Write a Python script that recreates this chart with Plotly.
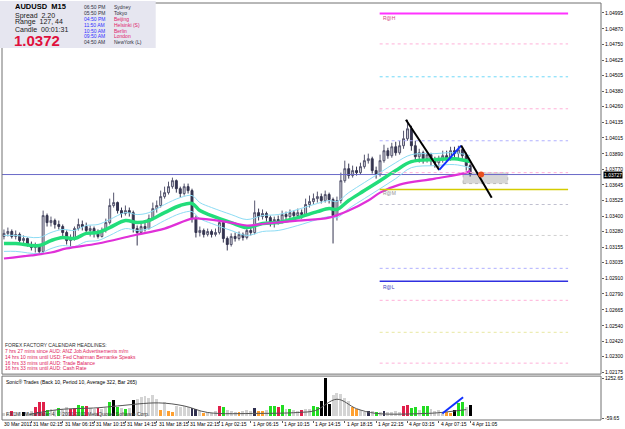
import plotly.graph_objects as go

# ---------------- data ----------------
candle_idx = list(range(120))
candle_open = [1.03241,1.03265,1.03280,1.03241,1.03257,1.03209,1.03225,1.03178,1.03154,1.03170,
 1.03123,1.03405,1.03350,1.03366,1.03335,1.03319,1.03272,1.03209,1.03225,1.03303,
 1.03335,1.03319,1.03288,1.03303,1.03265,1.03241,1.03288,1.03350,1.03484,1.03507,
 1.03444,1.03421,1.03444,1.03428,1.03303,1.03272,1.03319,1.03303,1.03381,1.03460,
 1.03484,1.03554,1.03585,1.03632,1.03679,1.03616,1.03578,1.03632,1.03601,1.03381,
 1.03272,1.03288,1.03257,1.03280,1.03257,1.03272,1.03350,1.03225,1.03178,1.03241,
 1.03225,1.03257,1.03233,1.03288,1.03272,1.03428,1.03397,1.03421,1.03389,1.03350,
 1.03374,1.03358,1.03413,1.03397,1.03428,1.03405,1.03428,1.03413,1.03492,1.03515,
 1.03538,1.03554,1.03523,1.03570,1.03531,1.03405,1.03523,1.03679,1.03773,1.03719,
 1.03758,1.03742,1.03789,1.03836,1.03851,1.03758,1.03727,1.03836,1.03914,1.03875,
 1.03945,1.03898,1.03953,1.04008,1.04086,1.03953,1.03867,1.03898,1.03851,1.03883,
 1.03836,1.03820,1.03851,1.03875,1.03851,1.03914,1.03891,1.03922,1.03875,1.03797]
candle_high = [1.03296,1.03311,1.03296,1.03288,1.03272,1.03249,1.03233,1.03201,1.03193,1.03178,
 1.03444,1.03421,1.03397,1.03381,1.03366,1.03335,1.03288,1.03257,1.03319,1.03381,
 1.03366,1.03350,1.03327,1.03319,1.03296,1.03311,1.03381,1.03538,1.03585,1.03515,
 1.03468,1.03484,1.03468,1.03444,1.03327,1.03350,1.03350,1.03413,1.03507,1.03523,
 1.03601,1.03632,1.03671,1.03703,1.03688,1.03632,1.03656,1.03656,1.03616,1.03405,
 1.03319,1.03303,1.03303,1.03296,1.03303,1.03374,1.03366,1.03241,1.03265,1.03272,
 1.03280,1.03272,1.03311,1.03319,1.03523,1.03460,1.03453,1.03436,1.03405,1.03397,
 1.03405,1.03444,1.03436,1.03453,1.03444,1.03460,1.03453,1.03538,1.03562,1.03578,
 1.03593,1.03578,1.03601,1.03585,1.03546,1.03554,1.03742,1.03836,1.03813,1.03797,
 1.03789,1.03820,1.03883,1.03891,1.03867,1.03789,1.03883,1.03961,1.03937,1.03976,
 1.03984,1.03992,1.04071,1.04157,1.04110,1.03992,1.03929,1.03914,1.03906,1.03898,
 1.03867,1.03875,1.03914,1.03914,1.03945,1.03945,1.03953,1.03937,1.03898,1.03813]
candle_low = [1.03218,1.03241,1.03225,1.03218,1.03193,1.03186,1.03162,1.03131,1.03115,1.03100,
 1.03108,1.03319,1.03319,1.03303,1.03296,1.03241,1.03178,1.03154,1.03209,1.03288,
 1.03288,1.03265,1.03241,1.03233,1.03225,1.03233,1.03272,1.03335,1.03468,1.03421,
 1.03389,1.03405,1.03397,1.03272,1.03170,1.03265,1.03280,1.03296,1.03366,1.03428,
 1.03468,1.03538,1.03570,1.03616,1.03585,1.03546,1.03562,1.03578,1.03350,1.03233,
 1.03241,1.03233,1.03241,1.03233,1.03241,1.03257,1.03193,1.03131,1.03162,1.03201,
 1.03209,1.03209,1.03218,1.03249,1.03257,1.03366,1.03374,1.03358,1.03319,1.03311,
 1.03335,1.03343,1.03374,1.03381,1.03381,1.03389,1.03381,1.03397,1.03468,1.03492,
 1.03507,1.03500,1.03507,1.03500,1.03186,1.03366,1.03500,1.03663,1.03695,1.03703,
 1.03719,1.03727,1.03773,1.03813,1.03735,1.03695,1.03711,1.03820,1.03851,1.03859,
 1.03875,1.03883,1.03929,1.03992,1.03914,1.03836,1.03820,1.03813,1.03820,1.03797,
 1.03781,1.03781,1.03820,1.03828,1.03836,1.03859,1.03851,1.03836,1.03758,1.03711]
candle_close = [1.03265,1.03280,1.03241,1.03257,1.03209,1.03225,1.03178,1.03154,1.03170,1.03123,
 1.03405,1.03350,1.03366,1.03335,1.03319,1.03272,1.03209,1.03225,1.03303,1.03335,
 1.03319,1.03288,1.03303,1.03265,1.03241,1.03288,1.03350,1.03484,1.03507,1.03444,
 1.03421,1.03444,1.03428,1.03303,1.03272,1.03319,1.03303,1.03381,1.03460,1.03484,
 1.03554,1.03585,1.03632,1.03679,1.03616,1.03578,1.03632,1.03601,1.03381,1.03272,
 1.03288,1.03257,1.03280,1.03257,1.03272,1.03350,1.03225,1.03178,1.03241,1.03225,
 1.03257,1.03233,1.03288,1.03272,1.03428,1.03397,1.03421,1.03389,1.03350,1.03374,
 1.03358,1.03413,1.03397,1.03428,1.03405,1.03428,1.03413,1.03492,1.03515,1.03538,
 1.03554,1.03523,1.03570,1.03531,1.03405,1.03523,1.03679,1.03773,1.03719,1.03758,
 1.03742,1.03789,1.03836,1.03851,1.03758,1.03727,1.03836,1.03914,1.03875,1.03945,
 1.03898,1.03953,1.04008,1.04086,1.03953,1.03867,1.03898,1.03851,1.03883,1.03836,
 1.03820,1.03851,1.03875,1.03851,1.03914,1.03891,1.03922,1.03875,1.03797,1.03727]

ma_x = [0,3,9,12,15,18,21,24,27,31,34,37,41,45,48,50,53,58,62,66,70,75,80,83,85,88,92,96,100,104,110,115,119]
ma_fast = [1.03186,1.03186,1.03170,1.03209,1.03233,1.03225,1.03265,1.03272,1.03311,1.03366,1.03350,1.03366,
 1.03428,1.03484,1.03500,1.03444,1.03405,1.03350,1.03311,1.03343,1.03350,1.03389,1.03436,1.03460,1.03453,
 1.03523,1.03601,1.03679,1.03758,1.03828,1.03844,1.03851,1.03828]
band_upper = [1.03249,1.03249,1.03233,1.03272,1.03296,1.03288,1.03327,1.03335,1.03374,1.03428,1.03413,1.03428,
 1.03492,1.03546,1.03562,1.03507,1.03468,1.03413,1.03374,1.03405,1.03413,1.03453,1.03500,1.03523,1.03515,
 1.03585,1.03664,1.03742,1.03820,1.03883,1.03891,1.03898,1.03875]
band_lower = [1.03124,1.03124,1.03108,1.03146,1.03170,1.03162,1.03201,1.03209,1.03249,1.03303,1.03288,1.03303,
 1.03366,1.03421,1.03436,1.03381,1.03343,1.03288,1.03249,1.03280,1.03288,1.03327,1.03374,1.03397,1.03389,
 1.03460,1.03538,1.03616,1.03695,1.03781,1.03797,1.03805,1.03781]
slow_x = [0,7,12,16,24,33,41,48,50,58,62,67,75,83,88,93,96,101,110,118,119]
ma_slow = [1.03068,1.03092,1.03115,1.03147,1.03186,1.03249,1.03303,1.03381,1.03381,1.03350,1.03327,1.03343,
 1.03366,1.03389,1.03444,1.03523,1.03585,1.03648,1.03695,1.03742,1.03758]

bid_price = 1.03727
pivot_levels = [1.04991,1.04752,1.04494,1.04243,1.03992,1.03742,1.03609,1.03492,1.03249,1.02991,1.02889,1.02740,1.02489,1.02247]
pivot_from, pivot_to = 95.9, 144.0
trend_x = [102.6, 111.1, 116.7, 124.5]
trend_y = [1.04157, 1.03763, 1.03954, 1.03544]
box_x = [117.2, 128.6]
box_y = [1.03656, 1.03742]
signal_x, signal_y = 121.8, 1.03727

y_tick_labels = ["1.04995","1.04870","1.04750","1.04625","1.04505","1.04380","1.04260","1.04135","1.04015",
 "1.03890","1.03770","1.03645","1.03525","1.03400","1.03280","1.03155","1.03035","1.02910","1.02790",
 "1.02665","1.02540","1.02420","1.02300","1.02175"]
x_tick_pos = [-0.5,7,15,23,31,39,47,55,63,71,79,87,95,103,111,119]
x_tick_labels = ["30 Mar 2011","31 Mar 02:15","31 Mar 06:15","31 Mar 10:15","31 Mar 14:15","31 Mar 18:15",
 "31 Mar 22:15","1 Apr 02:15","1 Apr 06:15","1 Apr 10:15","1 Apr 14:15","1 Apr 18:15","1 Apr 22:15",
 "4 Apr 03:15","4 Apr 07:15","4 Apr 11:05"]

volume = [90,120,160,100,130,150,140,170,300,450,480,190,250,200,280,230,300,250,260,380,
 350,330,260,240,260,220,280,470,530,300,270,250,280,530,580,620,650,600,680,560,
 200,450,170,140,330,290,350,300,260,240,160,120,140,110,160,320,300,200,160,150,
 130,170,200,180,280,180,160,200,340,350,300,360,250,220,200,180,190,220,240,320,
 300,500,1250,400,700,760,720,600,500,300,250,200,150,180,160,140,150,180,150,130,
 160,140,350,380,280,300,200,320,350,220,180,200,150,130,120,200,420,450,300,380]
volume_kind = list("ggrggkggrr" "rGggGggrrG" "GrggrggGkG" "gGgkllllll" "oloollllnn"
                   "gogggrGggg" "ogggnoogGG" "rGgGggrggG" "Gkkklllllo" "oggngGgngg"
                   "ggrrGGgGGg" "gggookGGgk")
avg_x = [6.6,14,24,29,39.5,46,52,65,75,79.5,85,90,95,108,111.6,118]
avg_v = [62,220,280,340,440,340,125,95,125,190,560,250,95,95,125,220]
sub_line_x = [111.9, 117.2]
sub_line_v = [94, 625]

# ---------------- styles ----------------
kind_color = {"g": "#cfcfcf", "l": "#d4d4d4", "G": "#22dd22", "r": "#e0204a", "k": "#000000",
              "o": "#ffa030", "n": "#303050"}
pivot_color = ["#ff33ff","#ffb0d8","#70d8f8","#ffb0d8","#b0b0ff","#ffb0d8","#d4cc00","#c0c0d0",
               "#d0d0d0","#b0b0ff","#3030e0","#ffb0d8","#e8e8a0","#ffb0d8"]
pivot_dash = ["solid","dot","dot","dot","dot","dot","solid","dot","dot","dot","solid","dot","dot","dot"]
pivot_width = [2,1,1,1,1,1,1.5,1,1,1,1.5,1,1,1]

W, H = 625, 429
L, R, T, B = 2, 19, 2, 9
def px(xp):
    return (xp - L) / (W - L - R)
def py(yp):
    return (H - B - yp) / (H - T - B)

FONT = "Liberation Sans, Arial, sans-serif"
fig = go.Figure()

fig.add_trace(go.Candlestick(
    x=candle_idx, open=candle_open, high=candle_high, low=candle_low, close=candle_close,
    increasing=dict(line=dict(color="#55556e", width=1), fillcolor="#d4d4dc"),
    decreasing=dict(line=dict(color="#34344f", width=1), fillcolor="#34344f"),
    whiskerwidth=0, showlegend=False, hoverinfo="skip", xaxis="x", yaxis="y"))

fig.add_trace(go.Scatter(x=[-0.5, 152.4], y=[bid_price, bid_price], mode="lines",
                         line=dict(color="#6a6ac8", width=1), showlegend=False, hoverinfo="skip"))
for bu in (band_upper, band_lower):
    fig.add_trace(go.Scatter(x=ma_x, y=bu, mode="lines", line=dict(color="#8cdcf4", width=1, shape="spline"),
                             showlegend=False, hoverinfo="skip"))
fig.add_trace(go.Scatter(x=ma_x, y=ma_fast, mode="lines", line=dict(color="#22dd7a", width=3.5, shape="spline"),
                         showlegend=False, hoverinfo="skip"))
fig.add_trace(go.Scatter(x=slow_x, y=ma_slow, mode="lines", line=dict(color="#e030d8", width=2.2, shape="spline"),
                         showlegend=False, hoverinfo="skip"))

for lv, c, d, w in zip(pivot_levels, pivot_color, pivot_dash, pivot_width):
    fig.add_trace(go.Scatter(x=[pivot_from, pivot_to], y=[lv, lv], mode="lines",
                             line=dict(color=c, width=w, dash=d), showlegend=False, hoverinfo="skip"))

seg_colors = ["#000000", "#1030ff", "#000000"]
for k in range(3):
    fig.add_trace(go.Scatter(x=trend_x[k:k+2], y=trend_y[k:k+2], mode="lines",
                             line=dict(color=seg_colors[k], width=2), showlegend=False, hoverinfo="skip"))

fig.add_shape(type="rect", xref="x", yref="y", x0=box_x[0], x1=box_x[1], y0=box_y[0], y1=box_y[1],
              fillcolor="#d6d6d6", line=dict(color="#b8b8b8", width=1, dash="dot"), layer="below")
fig.add_trace(go.Scatter(x=[signal_x], y=[signal_y], mode="markers",
                         marker=dict(color="#e85020", size=6, symbol="circle"), showlegend=False, hoverinfo="skip"))

# sub window
fig.add_trace(go.Bar(x=candle_idx, y=volume, marker=dict(color=[kind_color[k] for k in volume_kind], line=dict(width=0)),
                     width=0.75, xaxis="x", yaxis="y2", showlegend=False, hoverinfo="skip"))
fig.add_trace(go.Scatter(x=avg_x, y=avg_v, mode="lines", line=dict(color="#555555", width=1, shape="spline"),
                         xaxis="x", yaxis="y2", showlegend=False, hoverinfo="skip"))
fig.add_trace(go.Scatter(x=sub_line_x, y=sub_line_v, mode="lines", line=dict(color="#1030ff", width=2),
                         xaxis="x", yaxis="y2", showlegend=False, hoverinfo="skip"))

main_bottom = py(374)
sub_top = py(376)

fig.update_layout(
    width=W, height=H, margin=dict(l=L, r=R, t=T, b=B),
    paper_bgcolor="white", plot_bgcolor="white", bargap=0,
    font=dict(family=FONT, size=5, color="#000000"),
    xaxis=dict(range=[-0.5, 152.4], anchor="y2", showgrid=False, zeroline=False, showline=False,
               tickvals=x_tick_pos[1:], ticks="outside", ticklen=2, tickcolor="#606060",
               showticklabels=False, rangeslider=dict(visible=False)),
    yaxis=dict(domain=[main_bottom, 1], range=[1.02161, 1.05073], side="right", showgrid=False, zeroline=False,
               tickvals=[float(s) for s in y_tick_labels], ticktext=y_tick_labels, ticks="outside",
               ticklen=2, tickcolor="#606060", tickfont=dict(size=5, family=FONT, color="#000000")),
    yaxis2=dict(domain=[0, sub_top], range=[-122, 1320], side="right", showgrid=False, zeroline=False,
                tickvals=[1252.65, -59.65], ticktext=["1252.65", "-59.65"], ticks="outside", ticklen=2,
                tickcolor="#606060", tickfont=dict(size=5, family=FONT, color="#000000")),
)

# frames
for y0, y1 in ((main_bottom, 1), (0, sub_top)):
    fig.add_shape(type="rect", xref="paper", yref="paper", x0=0, x1=1, y0=y0, y1=y1,
                  line=dict(color="#707070", width=1), fillcolor="rgba(0,0,0,0)")

ann = []
def text(x, y, s, size=5, color="#000000", bold=False, xref="paper", yref="paper", xanchor="left", bg=None):
    d = dict(x=x, y=y, xref=xref, yref=yref, text=("<b>%s</b>" % s) if bold else s, showarrow=False,
             xanchor=xanchor, yanchor="middle", font=dict(size=size, color=color, family=FONT))
    if bg:
        d["bgcolor"] = bg
        d["borderpad"] = 0
    ann.append(d)

for pos, lab in zip(x_tick_pos, x_tick_labels):
    ann.append(dict(x=pos, y=py(424.5), xref="x", yref="paper", text=lab, showarrow=False, xanchor="left",
                    yanchor="middle", font=dict(size=5, family=FONT, color="#000000")))

# price box
text(1.003, bid_price, "1.03727", size=5, color="#ffffff", yref="y", bg="#000000")

# pivot labels
text(96.3, 1.04956, "R@H", size=5, color="#d04080", xref="x", yref="y")
text(96.3, 1.03580, "R@M", size=5, color="#909090", xref="x", yref="y")
text(96.3, 1.02842, "R@L", size=5, color="#4040c0", xref="x", yref="y")

# info panel
fig.add_shape(type="rect", xref="paper", yref="paper", x0=px(0), x1=px(157), y0=py(47), y1=py(0),
              fillcolor="#e6e6f0", line=dict(width=0))
text(px(13), py(6), "AUDUSD  M15", size=7.5, bold=True)
text(px(13), py(14.7), "Spread  2.20", size=7, color="#202020")
text(px(13), py(21.5), "Range  127, 44", size=7, color="#202020")
text(px(13), py(28.5), "Candle  00:01:31", size=7, color="#202020")
text(px(12), py(39.5), "1.0372", size=15, color="#e0103c", bold=True)
clock_times = ["06:50 PM","05:50 PM","04:50 PM","11:50 AM","10:50 AM","09:50 AM","04:50 AM"]
clock_cities = ["Sydney","Tokyo","Beijing","Helsinki (S)","Berlin","London","NewYork (L)"]
time_col = ["#303040","#303040","#3030ff","#3030ff","#3030ff","#3030ff","#303040"]
city_col = ["#303040","#303040","#e0206a","#e0206a","#e0206a","#e0206a","#303040"]
for k, (t, c) in enumerate(zip(clock_times, clock_cities)):
    yy = py(5.8 + 5.95 * k)
    text(px(83), yy, t, size=5, color=time_col[k])
    text(px(113), yy, c, size=5, color=city_col[k])

# calendar headlines
headlines = ["FOREX FACTORY CALENDAR HEADLINES:",
             "7 hrs 27 mins since AUD: ANZ Job Advertisements m/m",
             "14 hrs 10 mins until USD: Fed Chairman Bernanke Speaks",
             "16 hrs 33 mins until AUD: Trade Balance",
             "16 hrs 33 mins until AUD: Cash Rate"]
for k, h in enumerate(headlines):
    text(px(3), py(345 + 5.8 * k), h, size=5, color="#303030" if k == 0 else "#e0205a")

text(px(4), py(381.5), "Sonic® Trades (Back 10, Period 10, Average 322, Bar 265)", size=5, color="#000000")
text(px(4), py(414), "FXCM - MetaTrader 4, © 2001-2011 MetaQuotes Software Corp.", size=5, color="#404040")

fig.update_layout(annotations=ann)
fig.write_html("out.html")
